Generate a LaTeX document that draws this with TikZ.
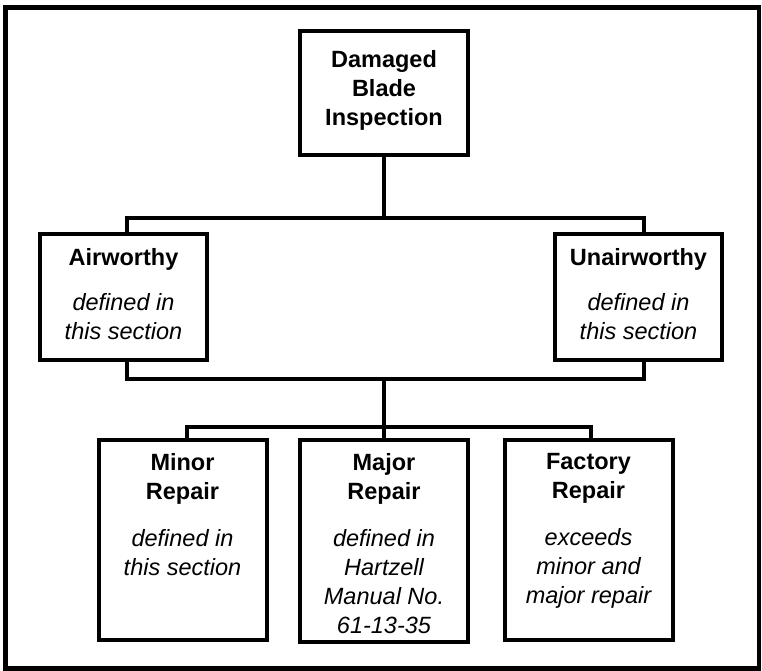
\documentclass[tikz,border=0pt]{standalone}
\usepackage{fontspec}
\setmainfont{Liberation Sans}
\tikzset{
  box/.style={draw, line width=4pt, inner sep=0pt, line join=miter},
  conn/.style={line width=4pt, line join=miter},
  frame/.style={line width=4.5pt, line join=miter}
}
\newcommand{\boxtext}[4]{\parbox[c][#2][t]{#1}{\centering\fontsize{23.5}{29}\selectfont\vspace*{#3}#4}}
\begin{document}
\begin{tikzpicture}[x=1pt,y=-1pt]
\useasboundingbox (0,0) rectangle (762,671);
\draw[frame] (5.5,7.5) rectangle (759,668.5);

\node[box] (dbi) at (384,93) {\boxtext{168pt}{124pt}{19pt}{\bfseries Damaged\\Blade\\Inspection}};
\node[box] (air) at (123.5,297) {\boxtext{167pt}{126pt}{14pt}{\bfseries Airworthy\par\vspace{16pt}\mdseries\itshape defined in\\this section}};
\node[box] (unair) at (638.5,297) {\boxtext{167pt}{126pt}{14pt}{\bfseries Unairworthy\par\vspace{16pt}\mdseries\itshape defined in\\this section}};
\node[box] (minor) at (182.5,540) {\boxtext{168pt}{200pt}{13pt}{\bfseries Minor\\Repair\par\vspace{18pt}\mdseries\itshape defined in\\this section}};
\node[box] (major) at (384,541) {\boxtext{168pt}{202pt}{13pt}{\bfseries Major\\Repair\par\vspace{18pt}\mdseries\itshape defined in\\Hartzell\\Manual No.\\61-13-35}};
\node[box] (factory) at (588.5,540) {\boxtext{168pt}{200pt}{13pt}{\bfseries Factory\\Repair\par\vspace{18pt}\mdseries\itshape exceeds\\minor and\\major repair}};

\coordinate (b1L) at (127,218);
\coordinate (b1R) at (644,218);
\coordinate (b2L) at (127,379);
\coordinate (b2R) at (644,379);
\coordinate (b3L) at (187,427);
\coordinate (b3R) at (591,427);

\draw[conn] (dbi.south) -- (dbi.south |- b1L);
\draw[conn] (air.north -| b1L) -- (b1L) -- (b1R) -- (unair.north -| b1R);
\draw[conn] (air.south -| b2L) -- (b2L) -- (b2R) -- (unair.south -| b2R);
\draw[conn] (dbi.south |- b2L) -- (major.north);
\draw[conn] (minor.north -| b3L) -- (b3L) -- (b3R) -- (factory.north -| b3R);
\end{tikzpicture}
\end{document}
